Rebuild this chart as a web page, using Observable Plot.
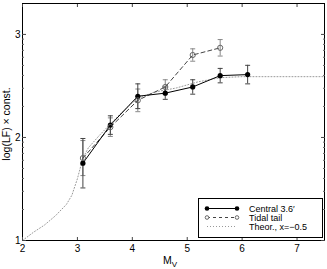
<!DOCTYPE html>
<html><head><meta charset="utf-8">
<script src="https://cdn.jsdelivr.net/npm/d3@7"></script>
<script src="https://cdn.jsdelivr.net/npm/@observablehq/plot@0.6"></script>
<style>body{margin:0;background:#fff;} #wrap{width:327px;height:269px;}</style>
</head><body><div id="wrap"></div>
<script>
// Central 3.6' sample
const centralM   = [3.1, 3.6, 4.1, 4.6, 5.1, 5.6, 6.1];
const centralY   = [1.75, 2.12, 2.40, 2.43, 2.49, 2.60, 2.61];
const centralErr = [0.24, 0.09, 0.12, 0.06, 0.07, 0.07, 0.09];
// Tidal tail
const tidalM   = [3.1, 3.6, 4.1, 4.6, 5.1, 5.6];
const tidalY   = [1.80, 2.10, 2.36, 2.49, 2.80, 2.87];
const tidalErr = [0.17, 0.09, 0.11, 0.07, 0.06, 0.08];
// Theoretical LF, x = -0.5
const theoM = [2.0, 2.2, 2.4, 2.6, 2.8, 2.9, 3.0, 3.05, 3.1, 3.2, 3.4, 3.6, 3.8, 4.0, 4.2, 4.4, 4.6, 4.8, 5.0, 5.2, 5.4, 5.6, 5.8, 6.0, 6.5, 7.0, 7.5];
const theoY = [1.00, 1.08, 1.15, 1.24, 1.35, 1.44, 1.60, 1.70, 1.80, 1.90, 2.02, 2.13, 2.24, 2.34, 2.40, 2.44, 2.46, 2.48, 2.51, 2.54, 2.56, 2.58, 2.585, 2.59, 2.59, 2.59, 2.59];
// Axis ticks
const xTicks = [2, 3, 4, 5, 6, 7];
const yMajor = [1, 2, 3];
const yMinorMantissa = [2, 3, 4, 5, 6, 7, 8, 9];
const yMinor = [1, 2].flatMap(e => yMinorMantissa.map(k => e + Math.log10(k)));

const central = centralM.map((m, i) => ({M: m, y: centralY[i], e: centralErr[i]}));
const tidal = tidalM.map((m, i) => ({M: m, y: tidalY[i], e: tidalErr[i]}));
const theo = theoM.map((m, i) => ({M: m, y: theoY[i]}));

const capSymbol = {draw(ctx, size) { const w = Math.sqrt(size / Math.PI); ctx.moveTo(-w, 0); ctx.lineTo(w, 0); }};
const font = "Liberation Sans, Arial, Helvetica, sans-serif";

const errMarks = (data, color) => [
  Plot.ruleX(data, {x: "M", y1: d => d.y - d.e, y2: d => d.y + d.e, stroke: color, strokeWidth: 1}),
  Plot.dot(data, {x: "M", y: d => d.y - d.e, symbol: capSymbol, r: 2.5, stroke: color, strokeWidth: 1}),
  Plot.dot(data, {x: "M", y: d => d.y + d.e, symbol: capSymbol, r: 2.5, stroke: color, strokeWidth: 1})
];

const plot = Plot.plot({
  width: 327, height: 269,
  marginLeft: 22, marginRight: 3, marginTop: 3, marginBottom: 29,
  style: {fontFamily: font, fontSize: "10px", color: "#000", background: "#fff"},
  x: {domain: [2, 7.5], label: null},
  y: {domain: [1, 3.3], label: null},
  marks: [
    Plot.line(theo, {x: "M", y: "y", stroke: "#999", strokeWidth: 1, strokeDasharray: "1,2"}),
    ...errMarks(tidal, "#888"),
    ...errMarks(central, "#444"),
    Plot.line(tidal, {x: "M", y: "y", stroke: "#444", strokeWidth: 1, strokeDasharray: "4,3"}),
    Plot.line(central, {x: "M", y: "y", stroke: "#000", strokeWidth: 1}),
    Plot.dot(central, {x: "M", y: "y", r: 2.6, fill: "#000"}),
    Plot.dot(tidal, {x: "M", y: "y", r: 2.6, stroke: "#666", fill: "none", strokeWidth: 1}),
    Plot.frame({stroke: "#000", strokeWidth: 1}),
    Plot.axisX({anchor: "bottom", ticks: xTicks, tickSize: -3, tickPadding: 7, tickFormat: d => String(d), stroke: "#444", label: null}),
    Plot.axisX({anchor: "top", ticks: xTicks, tickSize: -3, tickFormat: () => "", stroke: "#444", label: null}),
    Plot.axisY({anchor: "left", ticks: yMajor, tickSize: -4, tickPadding: 6, tickFormat: d => String(d), stroke: "#444", label: null}),
    Plot.axisY({anchor: "right", ticks: yMajor, tickSize: -4, tickFormat: () => "", stroke: "#444", label: null}),
    Plot.axisY({anchor: "left", ticks: yMinor, tickSize: -2, tickFormat: () => "", stroke: "#666", label: null}),
    Plot.axisY({anchor: "right", ticks: yMinor, tickSize: -2, tickFormat: () => "", stroke: "#666", label: null})
  ]
});
document.getElementById("wrap").appendChild(plot);

const svg = d3.select(plot);
// Axis labels
const xl = svg.append("text").attr("x", 170).attr("y", 264).attr("text-anchor", "middle")
  .attr("font-family", font).attr("font-size", 10.5).attr("fill", "#000");
xl.append("tspan").text("M");
xl.append("tspan").attr("font-size", 8).attr("dy", 3).text("V");
svg.append("text").attr("transform", "translate(10,124) rotate(-90)").attr("text-anchor", "middle")
  .attr("font-family", font).attr("font-size", 10.5).attr("fill", "#000").text("log(LF) × const.");

// Legend
const lg = svg.append("g");
lg.append("rect").attr("x", 198.5).attr("y", 198.5).attr("width", 124).attr("height", 39)
  .attr("fill", "#fff").attr("stroke", "#000");
const rows = [
  {label: "Central 3.6′", stroke: "#000", dash: null, dot: "fill"},
  {label: "Tidal tail", stroke: "#444", dash: "3,3", dot: "open"},
  {label: "Theor., x=−0.5", stroke: "#999", dash: "1,2", dot: null}
];
rows.forEach((r, i) => {
  const y = 208.5 + i * 9;
  lg.append("line").attr("x1", 207).attr("x2", 237).attr("y1", y).attr("y2", y)
    .attr("stroke", r.stroke).attr("stroke-dasharray", r.dash);
  if (r.dot) [207, 237].forEach(x => {
    lg.append("circle").attr("cx", x).attr("cy", y).attr("r", r.dot === "fill" ? 2.3 : 1.8)
      .attr("fill", r.dot === "fill" ? "#000" : "#fff").attr("stroke", r.dot === "fill" ? "none" : "#666");
  });
  lg.append("text").attr("x", 249).attr("y", y + 3).attr("text-anchor", "start").attr("font-family", font).attr("font-size", 9)
    .attr("fill", "#000").text(r.label);
});
</script>
</body></html>
